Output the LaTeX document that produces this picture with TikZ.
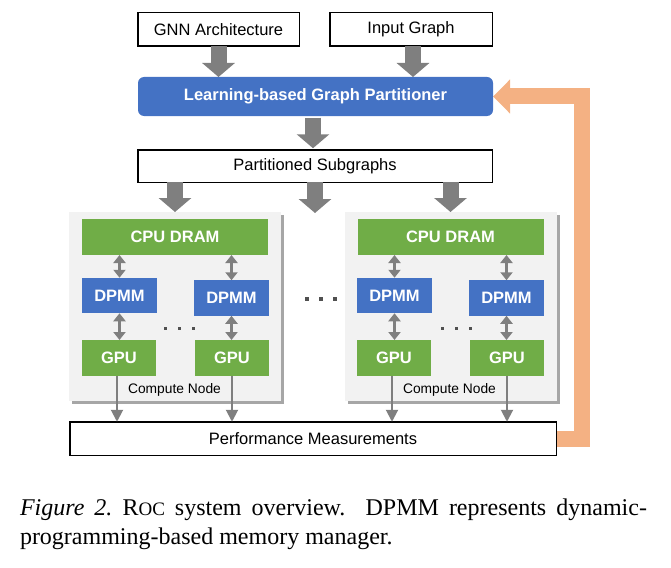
\documentclass[tikz,border=0pt]{standalone}
\usepackage{fontspec}
\setmainfont{Liberation Serif}
\newfontfamily\arial{Liberation Sans}
\usetikzlibrary{arrows.meta,shadows,backgrounds,calc}
\definecolor{boxblue}{HTML}{4472C4}
\definecolor{boxgreen}{HTML}{70AD47}
\definecolor{arrowgray}{HTML}{7F7F7F}
\definecolor{panelgray}{HTML}{F2F2F2}
\definecolor{fborange}{HTML}{F4B183}
\definecolor{dotgray}{HTML}{505050}
\begin{document}
\begin{tikzpicture}[x=1pt,y=-1pt,
  every node/.style={inner sep=0pt, outer sep=0pt},
  whitebox/.style={draw=black, line width=1.5pt, fill=white, font=\arial\fontsize{16.5}{19}\selectfont},
  partbox/.style={fill=boxblue, rounded corners=6pt, text=white, font=\arial\bfseries\fontsize{16.5}{20}\selectfont},
  boldw/.style={text=white, font=\arial\bfseries\fontsize{16.5}{20}\selectfont},
  cpubox/.style={boldw, fill=boxgreen, minimum width=186pt, minimum height=36pt},
  dpmmbox/.style={boldw, fill=boxblue, minimum width=75pt, minimum height=35.5pt},
  gpubox/.style={boldw, fill=boxgreen, minimum width=74pt, minimum height=36pt},
  panel/.style={fill=panelgray, minimum width=212pt, minimum height=189pt,
    drop shadow={shadow xshift=3pt, shadow yshift=-3pt, opacity=0.35, fill=black}},
  fatarrow/.style={draw=arrowgray, line width=16pt, -{Triangle[width=32pt,length=14pt]}},
  dbl/.style={draw=arrowgray, line width=2.5pt, {Triangle[width=12pt,length=8pt]}-{Triangle[width=12pt,length=8pt]}},
  downarrow/.style={draw=arrowgray, line width=2pt, -{Triangle[width=12pt,length=12pt]}},
  feedback/.style={draw=fborange, line width=16pt, line join=miter, -{Triangle[width=33pt,length=17pt]}},
  complabel/.style={font=\arial\fontsize{13.8}{16}\selectfont},
  caption/.style={anchor=base west, font=\fontsize{24}{30}\selectfont}
]
\useasboundingbox (0,0) rectangle (671,567);

% top boxes
\node[whitebox, minimum width=161.5pt, minimum height=33.5pt] (gnn) at (218.5,29.5) {GNN Architecture};
\node[whitebox, minimum width=162.5pt, minimum height=33.5pt] (input) at (411,29.5) {Input Graph};
\node[partbox, minimum width=355pt, minimum height=39pt] (part) at (315.5,96.5) {Learning-based Graph Partitioner};
\node[whitebox, minimum width=354.5pt, minimum height=32.5pt] (sub) at (315,166) {Partitioned Subgraphs};

% panels
\node[panel] (panelL) at (175,306.5) {};
\node[panel] (panelR) at (450.5,306.5) {};

\node[cpubox] (cpuL) at (175,237) {CPU DRAM};
\node[cpubox] (cpuR) at (450.5,237) {CPU DRAM};

\node[dpmmbox] (dpmmL1) at (119.5,295.5) {DPMM};
\node[dpmmbox] (dpmmL2) at (231.5,298) {DPMM};
\node[dpmmbox] (dpmmR1) at (394.5,295.5) {DPMM};
\node[dpmmbox] (dpmmR2) at (506.5,298) {DPMM};

\node[gpubox] (gpuL1) at (119,358) {GPU};
\node[gpubox] (gpuL2) at (232,358) {GPU};
\node[gpubox] (gpuR1) at (394,358) {GPU};
\node[gpubox] (gpuR2) at (507,358) {GPU};

\node[complabel] (compL) at (174.5,389.5) {Compute Node};
\node[complabel] (compR) at (449.5,389.5) {Compute Node};

\node[whitebox, minimum width=486.5pt, minimum height=33.5pt] (perf) at (313,438.5) {Performance Measurements};

% feedback arrow
\begin{scope}[on background layer]
\draw[feedback] (perf.east) -| ($(part.east)+(89,0)$) -- (part.east);
\end{scope}

% gray fat arrows
\draw[fatarrow] (gnn.south) -- (gnn.south |- part.north);
\draw[fatarrow] ([xshift=2pt]input.south) -- ([xshift=2pt]input.south |- part.north);
\draw[fatarrow, shorten <=1.5pt, shorten >=1.5pt] ([xshift=-2.5pt]part.south) -- ([xshift=-2.5pt]part.south |- sub.north);
\coordinate (midtip) at (315,213);
\draw[fatarrow] (sub.south -| panelL.north) -- (panelL.north);
\draw[fatarrow] (sub.south -| midtip) -- (midtip);
\draw[fatarrow] (sub.south -| panelR.north) -- (panelR.north);

% double arrows
\foreach \d/\c/\g in {dpmmL1/cpuL/gpuL1, dpmmL2/cpuL/gpuL2, dpmmR1/cpuR/gpuR1, dpmmR2/cpuR/gpuR2}{
  \draw[dbl] (\d.north |- \c.south) -- (\d.north);
  \draw[dbl] (\d.south) -- (\d.south |- \g.north);
}

% arrows down to measurements
\draw[downarrow] ([xshift=-2pt]gpuL1.south) -- ([xshift=-2pt]gpuL1.south |- perf.north);
\draw[downarrow] (gpuL2.south) -- (gpuL2.south |- perf.north);
\draw[downarrow] ([xshift=-2pt]gpuR1.south) -- ([xshift=-2pt]gpuR1.south |- perf.north);
\draw[downarrow] (gpuR2.south) -- (gpuR2.south |- perf.north);

% dots
\foreach \x in {165,179,193,442,456,470}{
  \fill[dotgray] (\x-1.5,326.5) rectangle ++(3,3);
}
\foreach \x in {307,321,335}{
  \fill[dotgray] (\x-2,297) rectangle ++(4,4);
}

% caption
\node[caption] (cap1) at (20,515) {\makebox[627pt][s]{\textit{Figure 2.}\ R{\fontsize{19}{24}\selectfont OC} system overview. DPMM represents dynamic-}};
\node[caption] (cap2) at (20,544) {programming-based memory manager.};
\end{tikzpicture}
\end{document}
